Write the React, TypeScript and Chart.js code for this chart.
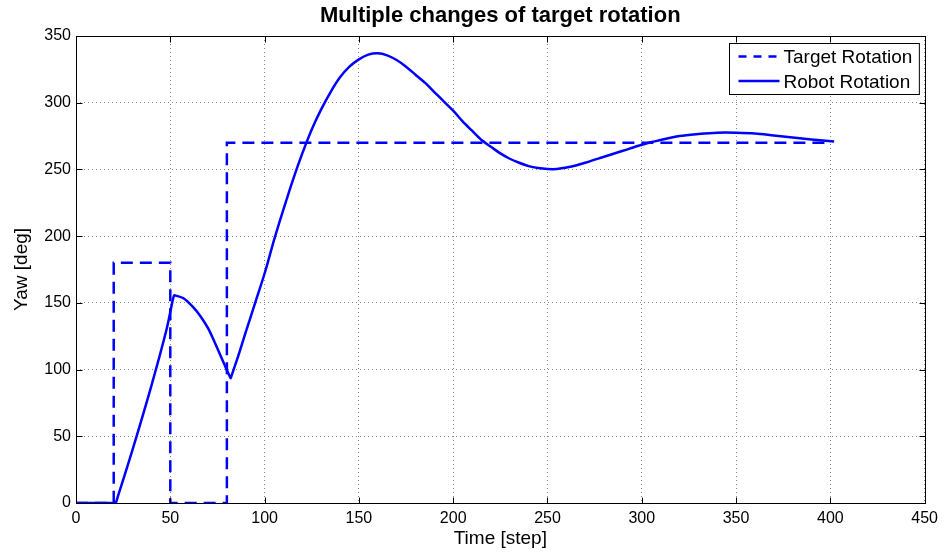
import React, { useEffect, useRef } from "react";
import { Chart, registerables } from "chart.js";

Chart.register(...registerables);

const chartTitle = "Multiple changes of target rotation";
const xAxisLabel = "Time [step]";
const yAxisLabel = "Yaw [deg]";
const xTickValues = [0, 50, 100, 150, 200, 250, 300, 350, 400, 450];
const yTickValues = [0, 50, 100, 150, 200, 250, 300, 350];

const targetLabel = "Target Rotation";
const targetSteps = [0, 20, 20, 50, 50, 80, 80, 400];
const targetYaw = [0, 0, 180, 180, 0, 0, 270, 270];

const robotLabel = "Robot Rotation";
const robotSteps = [
  0, 20, 21, 22, 30, 40, 48, 51, 52, 53, 57, 62, 66, 70, 74, 78, 81.5, 82, 82.5,
  86, 90, 95, 100, 105, 110, 115, 120, 125, 130, 135, 140, 145, 150, 155, 160,
  165, 170, 175, 180, 185, 190, 195, 200, 205, 210, 215, 220, 225, 230, 235, 240,
  245, 250, 255, 260, 265, 270, 280, 290, 300, 310, 320, 330, 340, 350, 360, 370,
  380, 390, 402,
];
const robotYaw = [
  0, 0, 0, 4, 40, 88, 130, 150, 155.5, 155.4, 153.5, 147, 140, 131, 119, 106, 95,
  93.5, 95.5, 110, 128, 150, 172, 197, 220, 242, 262, 280, 295, 308, 319, 327,
  332.5, 336, 337, 335.5, 332, 327, 321, 315, 308, 301, 294, 286, 279, 272, 267,
  262, 258, 255, 252.5, 251, 250.3, 250.3, 251.5, 253, 255, 259.5, 264, 268.5,
  272, 275, 276.5, 277.5, 277.5, 277, 275.5, 274, 272.5, 271,
];

const FONT = "'Liberation Sans', Arial, Helvetica, sans-serif";
const BLUE = "#0000ff";

const toPoints = (xs: number[], ys: number[]) => xs.map((x, i) => ({ x, y: ys[i] }));

const framePlugin = {
  id: "matlabFrame",
  afterDraw(chart: any) {
    const { ctx, chartArea, scales } = chart;
    const { left, right, top, bottom } = chartArea;
    const xs = scales.x;
    const ys = scales.y;
    const L = Math.round(left) + 0.5;
    const R = Math.round(right) + 0.5;
    const T = Math.round(top) + 0.5;
    const B = Math.round(bottom) + 0.5;
    const tl = 6;
    ctx.save();
    ctx.strokeStyle = "#000";
    ctx.lineWidth = 1;
    ctx.setLineDash([]);
    ctx.beginPath();
    xs.ticks.forEach((t: any) => {
      const p = Math.round(xs.getPixelForValue(t.value)) + 0.5;
      ctx.moveTo(p, B);
      ctx.lineTo(p, B - tl);
      ctx.moveTo(p, T);
      ctx.lineTo(p, T + tl);
    });
    ys.ticks.forEach((t: any) => {
      const p = Math.round(ys.getPixelForValue(t.value)) + 0.5;
      ctx.moveTo(L, p);
      ctx.lineTo(L + tl, p);
      ctx.moveTo(R, p);
      ctx.lineTo(R - tl, p);
    });
    ctx.stroke();
    ctx.strokeRect(L, T, R - L, B - T);

    // legend inside plot area, top-right
    const datasets = chart.data.datasets;
    ctx.font = `19px ${FONT}`;
    const textW = Math.max(...datasets.map((d: any) => ctx.measureText(d.label).width));
    const padL = 9, sample = 41, gap = 4, padR = 7, rowH = 24.5, padT = 13;
    const boxW = padL + sample + gap + textW + padR;
    const boxH = 51;
    const bx = Math.round(right - 6 - boxW) + 0.5;
    const by = Math.round(top + 7) + 0.5;
    ctx.fillStyle = "#fff";
    ctx.fillRect(bx, by, boxW, boxH);
    ctx.strokeStyle = "#000";
    ctx.strokeRect(bx, by, boxW, boxH);
    datasets.forEach((d: any, i: number) => {
      const yy = by + padT + i * rowH;
      ctx.strokeStyle = d.borderColor;
      ctx.lineWidth = d.borderWidth;
      ctx.setLineDash(d.borderDash && d.borderDash.length ? [8, 7] : []);
      ctx.beginPath();
      ctx.moveTo(bx + padL, yy);
      ctx.lineTo(bx + padL + sample, yy);
      ctx.stroke();
      ctx.setLineDash([]);
      ctx.fillStyle = "#000";
      ctx.textAlign = "left";
      ctx.textBaseline = "middle";
      ctx.fillText(d.label, bx + padL + sample + gap, yy + 1.5);
    });
    ctx.restore();
  },
};

export default function App() {
  const ref = useRef<HTMLCanvasElement | null>(null);

  useEffect(() => {
    if (!ref.current) return;
    const gridStyle = { color: "#888888", lineWidth: 1, drawTicks: false };
    const chart = new Chart(ref.current, {
      type: "line",
      data: {
        datasets: [
          {
            label: targetLabel,
            data: toPoints(targetSteps, targetYaw),
            borderColor: BLUE,
            borderWidth: 2.5,
            borderDash: [12, 7],
            pointRadius: 0,
            tension: 0,
            order: 2,
          },
          {
            label: robotLabel,
            data: toPoints(robotSteps, robotYaw),
            borderColor: BLUE,
            borderWidth: 2.5,
            pointRadius: 0,
            tension: 0.3,
            order: 1,
          },
        ],
      },
      plugins: [framePlugin],
      options: {
        responsive: false,
        animation: false,
        devicePixelRatio: 1,
        layout: { padding: { left: 0, right: 19, top: 0, bottom: 0 } },
        plugins: {
          legend: { display: false },
          tooltip: { enabled: false },
          title: {
            display: true,
            text: chartTitle,
            fullSize: false,
            color: "#000",
            font: { family: FONT, size: 22, weight: "bold", lineHeight: 1.2 },
            padding: { top: 3, bottom: 6.6 },
          },
        },
        scales: {
          x: {
            type: "linear",
            min: xTickValues[0],
            max: xTickValues[xTickValues.length - 1],
            grid: gridStyle,
            border: { display: false, dash: [1, 3] },
            ticks: {
              stepSize: xTickValues[1] - xTickValues[0],
              color: "#000",
              padding: 6,
              maxRotation: 0,
              font: { family: FONT, size: 16 },
            },
            title: {
              display: true,
              text: xAxisLabel,
              color: "#000",
              font: { family: FONT, size: 19, lineHeight: 1.2 },
              padding: { top: 0, bottom: 4 },
            },
            afterFit: (s: any) => {
              s.height = 51;
            },
          },
          y: {
            type: "linear",
            min: yTickValues[0],
            max: yTickValues[yTickValues.length - 1],
            grid: gridStyle,
            border: { display: false, dash: [1, 3] },
            ticks: {
              stepSize: yTickValues[1] - yTickValues[0],
              color: "#000",
              padding: 5,
              font: { family: FONT, size: 16 },
            },
            title: {
              display: true,
              text: yAxisLabel,
              color: "#000",
              font: { family: FONT, size: 19, lineHeight: 1.2 },
              padding: { top: 10, bottom: 0 },
            },
            afterFit: (s: any) => {
              s.width = 76;
            },
          },
        },
      },
    } as any);
    return () => chart.destroy();
  }, []);

  return (
    <div style={{ position: "fixed", left: 0, top: 0, width: 944, height: 554, background: "#fff" }}>
      <canvas ref={ref} width={944} height={554} />
    </div>
  );
}
